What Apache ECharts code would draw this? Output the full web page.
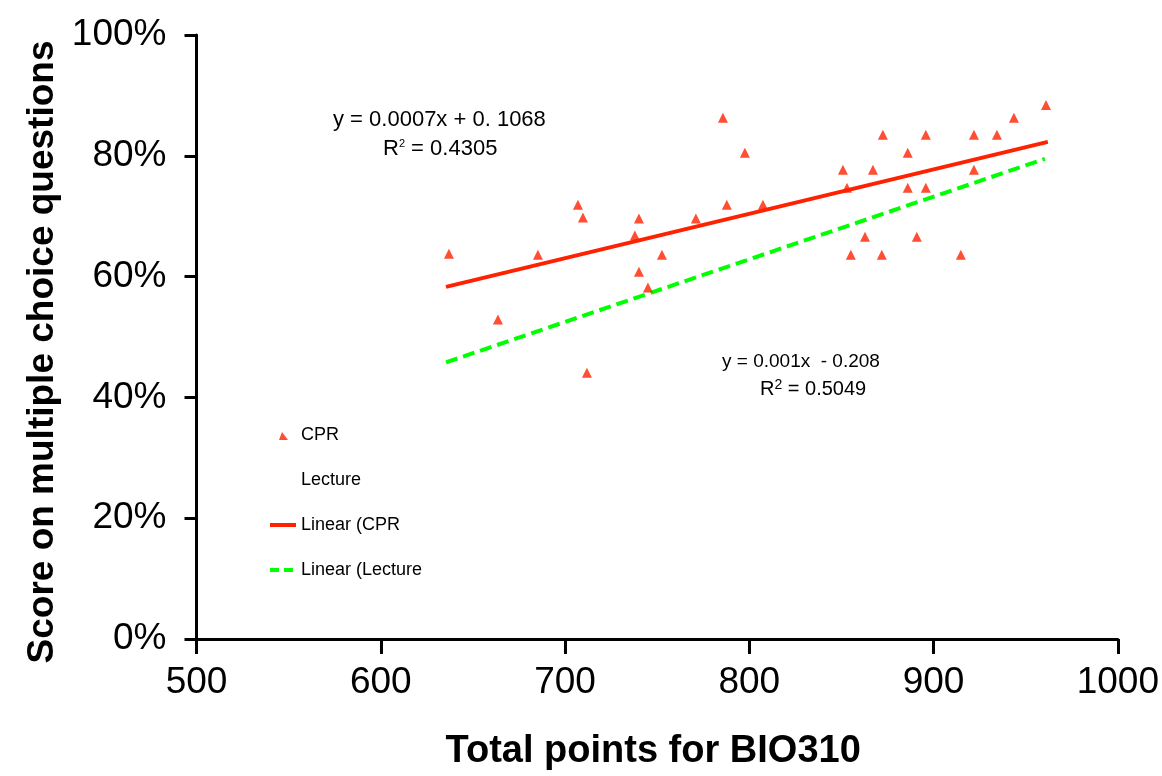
<!DOCTYPE html>
<html><head><meta charset="utf-8">
<script src="https://cdn.jsdelivr.net/npm/echarts@6/dist/echarts.min.js"></script>
<style>html,body{margin:0;padding:0;background:#fff}#c{width:1162px;height:776px}</style>
</head><body><div id="c"></div>
<script>
// ---- data ----
const xTickValues = [500, 600, 700, 800, 900, 1000];
const yTickValues = [0, 20, 40, 60, 80, 100];
const cprPoints = [
  [637, 63.8], [663.6, 52.9], [685.3, 63.6], [707, 71.9], [709.7, 69.8], [711.9, 44.1],
  [737.9, 66.8], [740.1, 69.6], [740.1, 60.8], [745, 58.2], [752.6, 63.6], [771, 69.6],
  [785.7, 86.3], [787.8, 71.9], [797.6, 80.5], [807.4, 71.9], [850.8, 77.7], [853, 74.7],
  [867.1, 77.7], [872.5, 83.5], [862.8, 66.6], [855.1, 63.6], [871.9, 63.6], [886, 80.5],
  [886, 74.7], [890.9, 66.6], [895.8, 83.5], [895.8, 74.7], [914.8, 63.6], [921.9, 83.5],
  [921.9, 77.7], [934.4, 83.5], [943.6, 86.3], [961, 88.4]
];
const lecturePoints = []; // markers not visible in the reference
const cprTrend = [[635.4, 58.3], [962, 82.3]];
const lectureTrend = [[635.4, 45.8], [960.4, 79.5]];
const seriesNames = ['CPR', 'Lecture', 'Linear (CPR', 'Linear (Lecture'];
const cprEquation = ['y = 0.0007x + 0. 1068', '0.4305'];
const lectureEquation = ['y = 0.001x  - 0.208', '0.5049'];
const xTitle = 'Total points for BIO310';
const yTitle = 'Score on multiple choice questions';

// ---- chart ----
const FONT = "'Liberation Sans', Arial, sans-serif";
const RED = '#FF2200';
const GREEN = '#00FF00';
const chart = echarts.init(document.getElementById('c'), null, {renderer: 'canvas'});
const axisLine = {show: true, onZero: false, lineStyle: {color: '#000', width: 3}};
chart.setOption({
  animation: false,
  backgroundColor: '#fff',
  grid: {left: 196.5, right: 44, top: 35, bottom: 136, containLabel: false},
  xAxis: {
    type: 'value', min: xTickValues[0], max: xTickValues[xTickValues.length - 1], interval: 100,
    axisLine: axisLine,
    axisTick: {show: true, inside: false, length: 15, lineStyle: {color: '#000', width: 3}},
    axisLabel: {fontFamily: FONT, fontSize: 37, color: '#000', margin: 25, formatter: v => String(v)},
    splitLine: {show: false},
    name: xTitle, nameLocation: 'middle', nameGap: 94,
    nameTextStyle: {fontFamily: FONT, fontSize: 38, fontWeight: 'bold', color: '#000', padding: [0, 8, 0, 0]}
  },
  yAxis: {
    type: 'value', min: yTickValues[0], max: yTickValues[yTickValues.length - 1], interval: 20,
    axisLine: axisLine,
    axisTick: {show: true, inside: false, length: 12, lineStyle: {color: '#000', width: 3}},
    axisLabel: {fontFamily: FONT, fontSize: 37, color: '#000', margin: 30, formatter: '{value}%'},
    splitLine: {show: false},
    name: yTitle, nameLocation: 'middle', nameGap: 130,
    nameTextStyle: {fontFamily: FONT, fontSize: 37, fontWeight: 'bold', color: '#000', padding: [0, 30, 0, 0]}
  },
  legend: {
    orient: 'vertical', left: 263, top: 421, itemWidth: 26, itemHeight: 12, itemGap: 27,
    textStyle: {fontFamily: FONT, fontSize: 18, color: '#000'},
    selectedMode: false,
    data: [
      {name: seriesNames[0], icon: 'path://M-1,-1L-1,-1M11,11L11,11M4,2L10,10L1,10Z', itemStyle: {color: RED}},
      {name: seriesNames[1], itemStyle: {opacity: 0}},
      {name: seriesNames[2], itemStyle: {opacity: 0}, lineStyle: {width: 4, color: RED}},
      {name: seriesNames[3], itemStyle: {opacity: 0}, lineStyle: {width: 4, color: GREEN, type: [9, 5]}}
    ]
  },
  series: [
    {name: seriesNames[0], type: 'scatter', data: cprPoints, symbol: 'triangle', symbolSize: 10,
     itemStyle: {color: RED}, z: 5},
    {name: seriesNames[1], type: 'scatter', data: lecturePoints, symbol: 'triangle', symbolSize: 10,
     itemStyle: {color: '#fff'}},
    {name: seriesNames[2], type: 'line', data: cprTrend, symbol: 'none', showSymbol: false,
     lineStyle: {color: RED, width: 4}, itemStyle: {color: RED}, z: 3},
    {name: seriesNames[3], type: 'line', data: lectureTrend, symbol: 'none', showSymbol: false,
     lineStyle: {color: GREEN, width: 4, type: [12, 6]}, itemStyle: {color: GREEN}, z: 3}
  ],
  graphic: [
    {type: 'text', left: 333, top: 109, style: {text: cprEquation[0], fontFamily: FONT, fontSize: 22, fill: '#000'}},
    {type: 'text', left: 383, top: 138, style: {
      text: 'R{s|2} = ' + cprEquation[1], fontFamily: FONT, fontSize: 22, fill: '#000',
      rich: {s: {fontSize: 11, fontFamily: FONT, verticalAlign: 'top', lineHeight: 12, padding: [0, 0, 12, 0]}}}},
    {type: 'text', left: 722, top: 352, style: {text: lectureEquation[0], fontFamily: FONT, fontSize: 19, fill: '#000'}},
    {type: 'text', left: 760, top: 378, style: {
      text: 'R{s|2} = ' + lectureEquation[1], fontFamily: FONT, fontSize: 20, fill: '#000',
      rich: {s: {fontSize: 14, fontFamily: FONT, padding: [0, 0, 8, 0]}}}}
  ]
});
</script></body></html>
